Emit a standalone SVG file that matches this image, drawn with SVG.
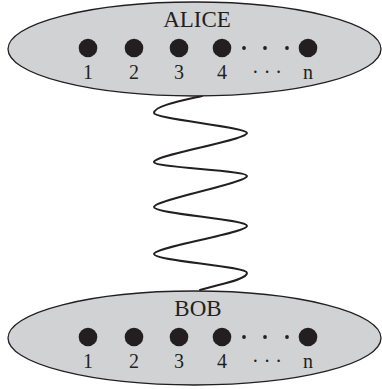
<svg xmlns="http://www.w3.org/2000/svg" width="382" height="389" viewBox="0 0 382 389">
  <style>
    .party { fill: #d1d2d4; stroke: #231f20; stroke-width: 1.3; }
    .q { fill: #231f20; }
    .sd { fill: #231f20; }
    .name { font-family: "Liberation Serif", "Times New Roman", serif; font-size: 23px; fill: #231f20; text-anchor: middle; }
    .num { font-family: "Liberation Serif", "Times New Roman", serif; font-size: 20px; fill: #231f20; text-anchor: middle; }
    .wire { fill: none; stroke: #231f20; stroke-width: 2; stroke-linecap: round; }
  </style>
  <defs>
    <g id="qubits">
      <circle class="q" cx="88" cy="48" r="9.3"/>
      <circle class="q" cx="134" cy="48" r="9.3"/>
      <circle class="q" cx="179" cy="48" r="9.3"/>
      <circle class="q" cx="222" cy="48" r="9.3"/>
      <circle class="sd" cx="244" cy="48" r="1.9"/>
      <circle class="sd" cx="265" cy="48" r="1.9"/>
      <circle class="sd" cx="287" cy="48" r="1.9"/>
      <circle class="q" cx="308" cy="48" r="9.3"/>
      <text class="num" x="88" y="79">1</text>
      <text class="num" x="134" y="79">2</text>
      <text class="num" x="179" y="79">3</text>
      <text class="num" x="222" y="79">4</text>
      <text class="num" x="267" y="79">· · ·</text>
      <text class="num" x="308" y="79">n</text>
    </g>
  </defs>
  <g id="connectors">
    <path class="wire" d="M 202 96 C 180 101, 154 106, 154 113 C 154 119, 247 127, 247 133 C 247 140, 154 155, 154 162 C 154 168, 247 170, 247 176 C 247 183, 154 200, 154 207 C 154 214, 247 219, 247 226 C 247 233, 154 247, 154 254 C 154 261, 247 266, 247 273 C 247 280, 215 285, 200 290"/>
  </g>
  <g id="alice">
    <ellipse class="party" cx="194.5" cy="49" rx="186.5" ry="47"/>
    <text class="name" x="197" y="27">ALICE</text>
    <use href="#qubits"/>
  </g>
  <g id="bob">
    <ellipse class="party" cx="194.5" cy="338" rx="186.5" ry="47"/>
    <text class="name" x="198" y="316">BOB</text>
    <use href="#qubits" transform="translate(0,289)"/>
  </g>
</svg>
